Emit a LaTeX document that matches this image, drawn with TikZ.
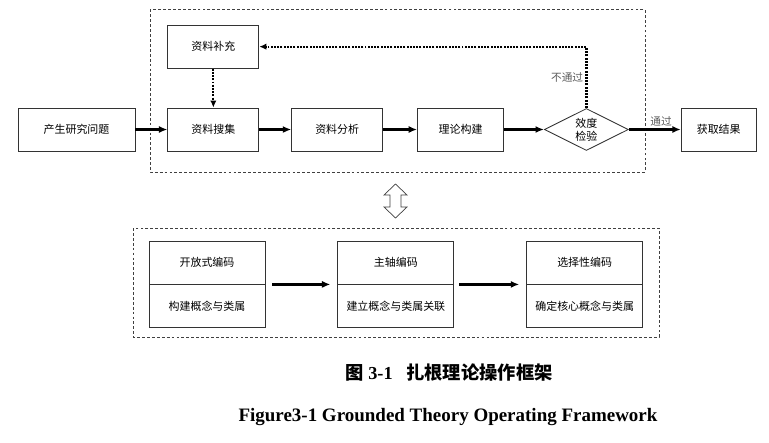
\documentclass[tikz,border=0pt]{standalone}
\usepackage{fontspec}
\setmainfont{Liberation Serif}
\newfontfamily\cjk{Noto Sans CJK SC}
\usetikzlibrary{positioning, arrows.meta, calc, shapes.geometric}

\begin{document}
\begin{tikzpicture}[
    node distance=0.8cm and 0.8cm,
    stagebox/.style={
        rectangle,
        draw=black!80,
        line width=0.6pt,
        minimum width=2.275cm,
        minimum height=1.075cm,
        inner sep=0pt,
        align=center,
        font=\cjk\fontsize{7.8}{9.2}\selectfont
    },
    checkbox/.style={
        diamond,
        draw=black!80,
        line width=0.6pt,
        aspect=2,
        minimum width=2.1cm,
        minimum height=1.05cm,
        inner sep=0pt,
        align=center,
        font=\cjk\fontsize{7.8}{9.2}\selectfont
    },
    codebox/.style={stagebox, minimum width=2.9cm},
    flowline/.style={-{Latex[length=6pt,width=5pt]}, line width=1.6pt, black},
    backline/.style={-{Latex[length=5pt,width=4.5pt]}, line width=1.6pt, dash pattern=on 1.4pt off 0.9pt},
    groupbox/.style={draw=black!75, line width=0.5pt, dash pattern=on 2pt off 1.5pt},
    passlabel/.style={font=\cjk\fontsize{7.6}{9}\selectfont, text=black!65, inner sep=1.5pt},
    linkarrow/.style={draw=black!75, line width=0.5pt, fill=white}
]
    \useasboundingbox (0,0) rectangle (19.225,-11.05);

    % Stage 1: data loop
    \node[stagebox, minimum width=2.925cm] (problem) at (1.9125,-3.2375) {产生研究问题};
    \node[stagebox, right=0.8cm of problem] (collect) {资料搜集};
    \node[stagebox, above=0.975cm of collect] (supply) {资料补充};
    \node[stagebox, right=0.8cm of collect] (analyse) {资料分析};
    \node[stagebox, minimum width=2.15cm, right=0.85cm of analyse] (build) {理论构建};
    \node[checkbox, right=1.0cm of build] (check) {效度\\检验};
    \node[stagebox, minimum width=1.875cm, right=1.3cm of check] (result) {获取结果};

    \draw[groupbox] (3.75,-0.2375) rectangle (16.125,-4.3);

    % Arrows
    \draw[flowline] (problem) -- (collect);
    \draw[flowline] (collect) -- (analyse);
    \draw[flowline] (analyse) -- (build);
    \draw[flowline] (build) -- (check);
    \draw[flowline] (check) -- node[passlabel, above, pos=0.62] {通过} (result);
    \draw[backline] (check.north) |- node[passlabel, left, pos=0.25] {不通过} (supply.east);
    \draw[backline] (supply) -- (collect);

    % Link between the two stages
    \coordinate (link) at (9.8875,-5.025);
    \draw[linkarrow] ($(link)+(0,0.425)$) -- ++(-0.2875,-0.275) -- ++(0.15,0) -- ++(0,-0.3)
        -- ++(-0.15,0) -- ++(0.2875,-0.275) -- ++(0.2875,0.275) -- ++(-0.15,0)
        -- ++(0,0.3) -- ++(0.15,0) -- cycle;

    % Stage 2: coding
    \node[codebox] (open) at (5.175,-6.5625) {开放式编码};
    \node[codebox, below=0cm of open] (opendesc) {构建概念与类属};
    \node[codebox, right=1.8cm of open] (axial) {主轴编码};
    \node[codebox, below=0cm of axial] (axialdesc) {建立概念与类属关联};
    \node[codebox, right=1.8cm of axial] (select) {选择性编码};
    \node[codebox, below=0cm of select] (selectdesc) {确定核心概念与类属};

    \draw[groupbox] (3.325,-5.7) rectangle (16.475,-8.425);

    \draw[flowline, shorten <=0.175cm, shorten >=0.175cm] (open.south east) -- (axial.south west);
    \draw[flowline, shorten <=0.125cm, shorten >=0.175cm] (axial.south east) -- (select.south west);

    % Caption
    \node[font=\bfseries\fontsize{13}{15}\selectfont] (caption) at (11.225,-9.325)
        {{\cjk 图} 3-1\enspace\ {\cjk 扎根理论操作框架}};
    \node[font=\bfseries\fontsize{13.5}{15}\selectfont] (captionen) at (11.2,-10.425)
        {Figure3-1 Grounded Theory Operating Framework};
\end{tikzpicture}
\end{document}
